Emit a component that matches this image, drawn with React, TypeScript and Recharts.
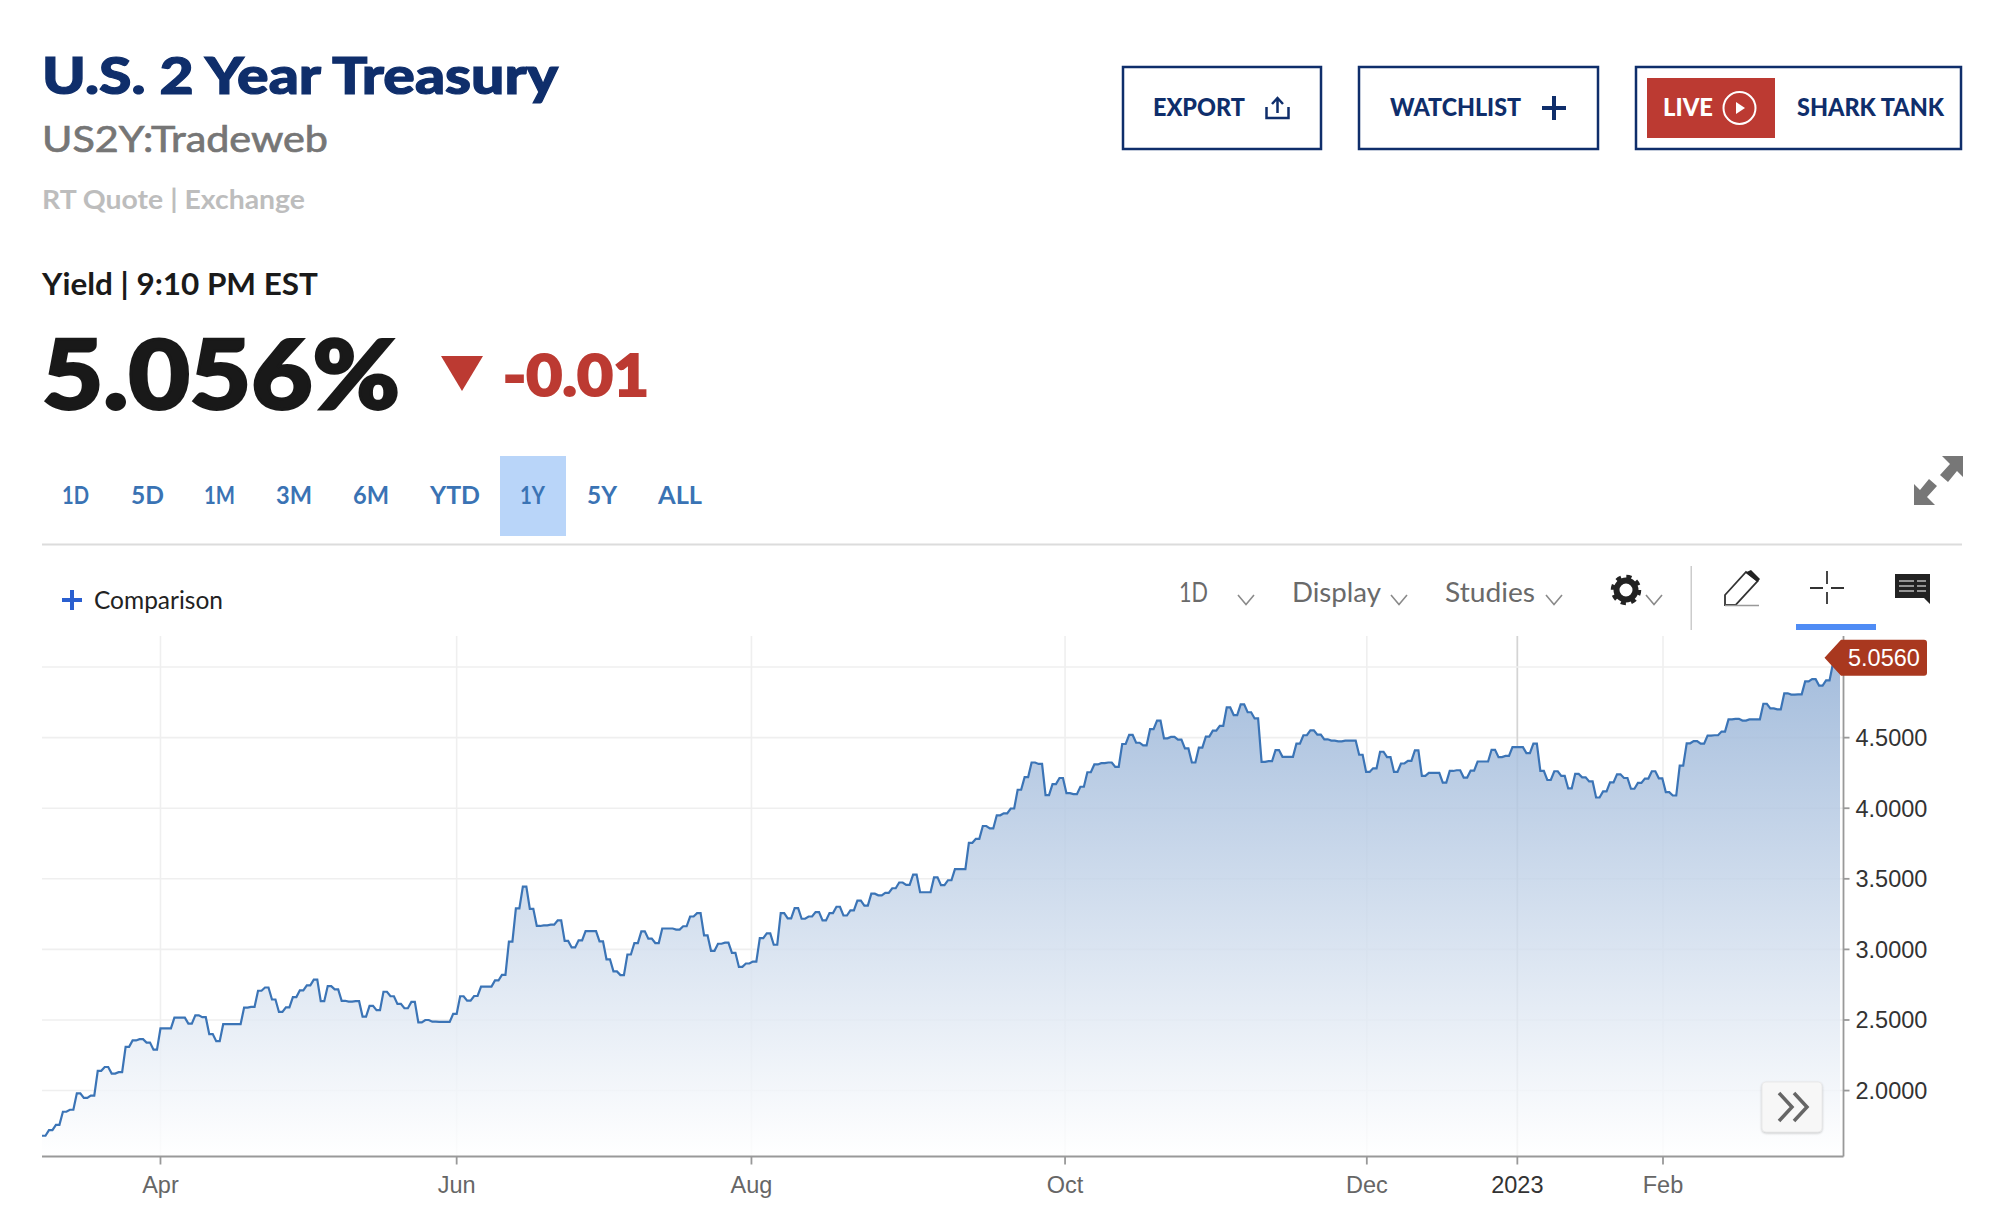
import { AreaChart, Area, XAxis, YAxis, CartesianGrid, ReferenceDot } from 'recharts'

// daily closing yield
const yields = [
  1.68, 1.72, 1.757, 1.85, 1.864, 1.98, 1.948, 1.964, 2.14, 2.167,
  2.12, 2.13, 2.31, 2.355, 2.364, 2.34, 2.29, 2.44, 2.44, 2.517,
  2.517, 2.474, 2.533, 2.52, 2.4, 2.35, 2.47, 2.47, 2.47, 2.588,
  2.593, 2.707, 2.73, 2.645, 2.557, 2.59, 2.662, 2.71, 2.745, 2.786,
  2.633, 2.74, 2.717, 2.636, 2.63, 2.633, 2.524, 2.6, 2.57, 2.7,
  2.668, 2.614, 2.583, 2.628, 2.483, 2.5, 2.488, 2.486, 2.486, 2.543,
  2.668, 2.637, 2.67, 2.737, 2.737, 2.78, 2.82, 3.055, 3.29, 3.445,
  3.287, 3.166, 3.17, 3.175, 3.206, 3.06, 3.014, 3.064, 3.13, 3.13,
  3.057, 2.93, 2.844, 2.818, 2.964, 3.045, 3.128, 3.076, 3.045, 3.148,
  3.148, 3.14, 3.164, 3.233, 3.257, 3.1, 2.99, 3.04, 3.048, 2.976,
  2.876, 2.9, 2.914, 3.08, 3.114, 3.033, 3.257, 3.22, 3.293, 3.217,
  3.233, 3.264, 3.205, 3.257, 3.302, 3.24, 3.276, 3.345, 3.31, 3.395,
  3.383, 3.4, 3.433, 3.474, 3.457, 3.53, 3.405, 3.405, 3.51, 3.455,
  3.49, 3.569, 3.569, 3.755, 3.783, 3.874, 3.857, 3.95, 3.964, 3.998,
  4.131, 4.22, 4.324, 4.314, 4.093, 4.171, 4.214, 4.107, 4.1, 4.152,
  4.255, 4.31, 4.319, 4.324, 4.293, 4.455, 4.519, 4.464, 4.445, 4.56,
  4.62, 4.495, 4.505, 4.486, 4.424, 4.324, 4.429, 4.507, 4.55, 4.583,
  4.714, 4.66, 4.736, 4.68, 4.636, 4.329, 4.333, 4.412, 4.364, 4.364,
  4.457, 4.517, 4.552, 4.521, 4.488, 4.479, 4.474, 4.479, 4.479, 4.379,
  4.257, 4.283, 4.4, 4.362, 4.257, 4.317, 4.336, 4.41, 4.229, 4.25,
  4.25, 4.181, 4.264, 4.269, 4.217, 4.267, 4.331, 4.331, 4.414, 4.362,
  4.371, 4.433, 4.433, 4.39, 4.457, 4.264, 4.2, 4.262, 4.229, 4.14,
  4.243, 4.219, 4.19, 4.076, 4.119, 4.183, 4.24, 4.214, 4.138, 4.179,
  4.21, 4.262, 4.212, 4.114, 4.09, 4.302, 4.46, 4.476, 4.457, 4.514,
  4.517, 4.543, 4.629, 4.633, 4.621, 4.629, 4.629, 4.74, 4.707, 4.7,
  4.814, 4.805, 4.807, 4.898, 4.914, 4.869, 4.905, 5.029, 5.056,
]

// x axis runs in trading days from the start of the window
const monthLabels = ['Apr', 'Jun', 'Aug', 'Oct', 'Dec', '2023', 'Feb']
const monthPositions = [17, 59.5, 101.8, 146.8, 190.1, 211.7, 232.6]
const yearPosition = [211.7]
// the 5.0000 tick sits under the price tag, so only its grid line shows
const yieldTicks = [2, 2.5, 3, 3.5, 4, 4.5]
const hiddenGridYield = [5]
const lastYield = yields[yields.length - 1]

const rangeTabs = ['1D', '5D', '1M', '3M', '6M', 'YTD', '1Y', '5Y', 'ALL']
const rangeTabX = [62, 131, 204, 276, 353, 430, 520, 587, 658]
const rangeTabW = [27, 33, 31, 36, 36, 50, 25, 30, 44]

const data = yields.map((y, idx) => ({ idx, y }))

const HEAD = 'Lato, "Open Sans", sans-serif'
const AXIS = '"Liberation Sans", Arial, sans-serif'
const NAVY = '#0f2e6b'
const RED = '#bc3a32'

// the feed draws each day as a short flat run and then a ramp to the next close
function holdCurve(ctx: any) {
  let line = NaN
  let count = 0
  let px = 0
  let py = 0
  return {
    areaStart() { line = 0 },
    areaEnd() { line = NaN },
    lineStart() { count = 0 },
    lineEnd() {
      if (line || (line !== 0 && count === 1)) ctx.closePath()
      line = 1 - line
    },
    point(x: number, y: number) {
      count += 1
      if (count === 1) {
        if (line) ctx.lineTo(x, y)
        else ctx.moveTo(x, y)
      } else {
        ctx.lineTo(px + (x - px) * 0.5, py)
        ctx.lineTo(x, y)
      }
      px = x
      py = y
    },
  }
}

function MonthTick({ x, y, payload }: any) {
  const label = monthLabels[monthPositions.indexOf(payload.value)]
  return (
    <text x={x} y={y + 26} textAnchor="middle" fontFamily={AXIS} fontSize={23.5}
      fill={label === '2023' ? '#333' : '#666'}>
      {label}
    </text>
  )
}

function PriceTag({ cy }: any) {
  const mid = cy - 1.5
  const top = mid - 18
  return (
    <g>
      <path
        d={`M1824.5 ${mid} L1841 ${top} H1924 a3 3 0 0 1 3 3 V${top + 33} a3 3 0 0 1 -3 3 H1841 Z`}
        fill="#a9381f"
      />
      <text x={1848} y={mid + 8.5} fontFamily={AXIS} fontSize={23.5} fill="#fff">
        {lastYield.toFixed(4)}
      </text>
    </g>
  )
}

function T({ x, y, w, size, weight = 400, fill, children, font = HEAD, heavy = 0 }: any) {
  return (
    <text x={x} y={y} textLength={w} lengthAdjust="spacingAndGlyphs"
      fontFamily={font} fontSize={size} fontWeight={weight} fill={fill}
      stroke={heavy ? fill : 'none'} strokeWidth={heavy}>
      {children}
    </text>
  )
}

function Chevron({ x, y }: any) {
  return <path d={`M${x} ${y} l8 9.5 l8 -9.5`} fill="none" stroke="#8a8a8a" strokeWidth={1.6} />
}

function Overlay() {
  return (
    <svg width={1990} height={1232} style={{ position: 'absolute', left: 0, top: 0 }}>
      <T x={42} y={94} w={516} size={52} weight={900} fill={NAVY} heavy={1.2}>U.S. 2 Year Treasury</T>
      <T x={42} y={152} w={286} size={36} fill="#767676" heavy={0.7}>US2Y:Tradeweb</T>
      <T x={42} y={209} w={263} size={27} weight={700} fill="#bdbdbd">RT Quote | Exchange</T>
      <T x={42} y={295} w={276} size={30} weight={700} fill="#1a1a1a">Yield | 9:10 PM EST</T>
      <T x={42} y={409} w={358} size={95} weight={900} fill="#191919" heavy={2.8}>5.056%</T>
      <path d="M441 356 H483 L462 391 Z" fill={RED} />
      <T x={503} y={396} w={146} size={58} weight={900} fill={RED} heavy={2}>-0.01</T>

      <rect x={1123} y={67} width={198} height={82} fill="none" stroke={NAVY} strokeWidth={2.5} />
      <T x={1153} y={116} w={92} size={24} weight={900} fill={NAVY}>EXPORT</T>
      <path d="M1277.5 99 V113 M1272 104 L1277.5 98 L1283 104 M1266.5 107 V118 H1288.5 V107"
        fill="none" stroke={NAVY} strokeWidth={2.5} />
      <rect x={1359} y={67} width={239} height={82} fill="none" stroke={NAVY} strokeWidth={2.5} />
      <T x={1390} y={116} w={131} size={24} weight={900} fill={NAVY}>WATCHLIST</T>
      <path d="M1542 108 H1566 M1554 96 V120" stroke={NAVY} strokeWidth={4} />
      <rect x={1636} y={67} width={325} height={82} fill="none" stroke={NAVY} strokeWidth={2.5} />
      <rect x={1647} y={78} width={128} height={60} fill={RED} />
      <T x={1663} y={116} w={50} size={24} weight={900} fill="#fff">LIVE</T>
      <circle cx={1739.5} cy={108} r={16} fill="none" stroke="#fff" strokeWidth={2} />
      <path d="M1736 102 L1745 108 L1736 114 Z" fill="#fff" />
      <T x={1797} y={116} w={147} size={24} weight={900} fill={NAVY}>SHARK TANK</T>

      <path d="M1942 456 H1963 V477 L1957 471 L1948 482 L1940 475 L1950 464 Z" fill="#777" />
      <path d="M1935 505 H1914 V484 L1920 490 L1929 479 L1937 486 L1927 497 Z" fill="#777" />

      <rect x={500} y={456} width={66} height={80} fill="#b9d5f9" />
      {rangeTabs.map((tab, i) => (
        <T key={tab} x={rangeTabX[i]} y={504} w={rangeTabW[i]} size={25} weight={700} fill="#3a73b4">{tab}</T>
      ))}
      <rect x={42} y={543.5} width={1920} height={2} fill="#dcdcdc" />

      <path d="M62 600 H82 M72 590 V610" stroke="#2a5fd0" strokeWidth={4} />
      <T x={94} y={609} w={129} size={25} fill="#222">Comparison</T>

      <T x={1179} y={602} w={29} size={27} fill="#6a6a6a">1D</T>
      <Chevron x={1238} y={595} />
      <T x={1292} y={602} w={89} size={27} fill="#6a6a6a">Display</T>
      <Chevron x={1391} y={595} />
      <T x={1445} y={602} w={90} size={27} fill="#6a6a6a">Studies</T>
      <Chevron x={1546} y={595} />
      <circle cx={1626} cy={590} r={9.5} fill="none" stroke="#222" strokeWidth={6} />
      <circle cx={1626} cy={590} r={13} fill="none" stroke="#222" strokeWidth={4.5} strokeDasharray="5 5.2" />
      <Chevron x={1646} y={595} />
      <rect x={1690.5} y={566} width={1.5} height={64} fill="#ccc" />

      <path d="M1725 605 V595 L1746 572 L1757.6 581 L1735.5 605 Z" fill="none" stroke="#333" strokeWidth={1.8} />
      <path d="M1725 605.5 H1759" stroke="#999" strokeWidth={1.5} />
      <path d="M1745.5 572.5 L1751 570 L1760 579 L1757.6 582 Z" fill="#222" />
      <path d="M1827 571 V584 M1827 592 V604 M1810 588 H1823 M1831 588 H1844" stroke="#333" strokeWidth={1.8} />
      <rect x={1796} y={624} width={80} height={6} fill="#4f8cf5" />
      <path d="M1895 574 H1930 V604 L1924 598 H1895 Z" fill="#222" />
      <path d="M1899 581 H1914 M1899 586 H1914 M1899 591 H1914 M1917 581 H1926 M1917 586 H1926 M1917 591 H1926"
        stroke="#bbb" strokeWidth={1.5} />

      <rect x={1762} y={1082} width={60} height={50} rx={4} fill="#f7f7f7" stroke="#eaeaea"
        style={{ filter: 'drop-shadow(0 1px 1px rgba(0,0,0,.2))' }} />
      <path d="M1779 1093 L1792 1107 L1779 1121 M1794 1093 L1807 1107 L1794 1121"
        fill="none" stroke="#666" strokeWidth={3.5} />
    </svg>
  )
}

export default function App() {
  return (
    <div style={{ position: 'absolute', left: 0, top: 0, width: 1990, height: 1232, background: '#fff' }}>
      <AreaChart
        width={1990}
        height={1232}
        data={data}
        margin={{ top: 636, left: 42, right: 66.5, bottom: 25.5 }}
      >
        <defs>
          <linearGradient id="yieldFill" x1="0" y1="0" x2="0" y2="1">
            <stop offset="0%" stopColor="#94b1d6" stopOpacity={0.85} />
            <stop offset="100%" stopColor="#ffffff" stopOpacity={0.8} />
          </linearGradient>
        </defs>
        <CartesianGrid stroke="#efefef" strokeWidth={1.6} syncWithTicks />
        <CartesianGrid stroke="#d4d4d4" strokeWidth={1.6} horizontal={false} verticalValues={yearPosition} />
        <CartesianGrid stroke="#efefef" strokeWidth={1.6} vertical={false} horizontalValues={hiddenGridYield} />
        <XAxis
          dataKey="idx"
          type="number"
          domain={[0, 258.5]}
          ticks={monthPositions}
          interval={0}
          height={50}
          stroke="#999"
          strokeWidth={1.8}
          tickSize={8}
          tick={<MonthTick />}
        />
        <YAxis
          orientation="right"
          domain={[1.533, 5.22]}
          ticks={yieldTicks}
          interval={0}
          width={80}
          stroke="#999"
          strokeWidth={1.8}
          tickSize={6}
          tickFormatter={(v: number) => v.toFixed(4)}
          tick={{ fontFamily: AXIS, fontSize: 23.5, fill: '#333', dx: 4 }}
        />
        <Area
          type={holdCurve as any}
          dataKey="y"
          stroke="#3b74b6"
          strokeWidth={2.2}
          fill="url(#yieldFill)"
          fillOpacity={1}
          dot={false}
          activeDot={false}
          isAnimationActive={false}
        />
        <ReferenceDot x={258} y={lastYield} shape={<PriceTag />} zIndex={2000} />
      </AreaChart>
      <Overlay />
    </div>
  )
}
